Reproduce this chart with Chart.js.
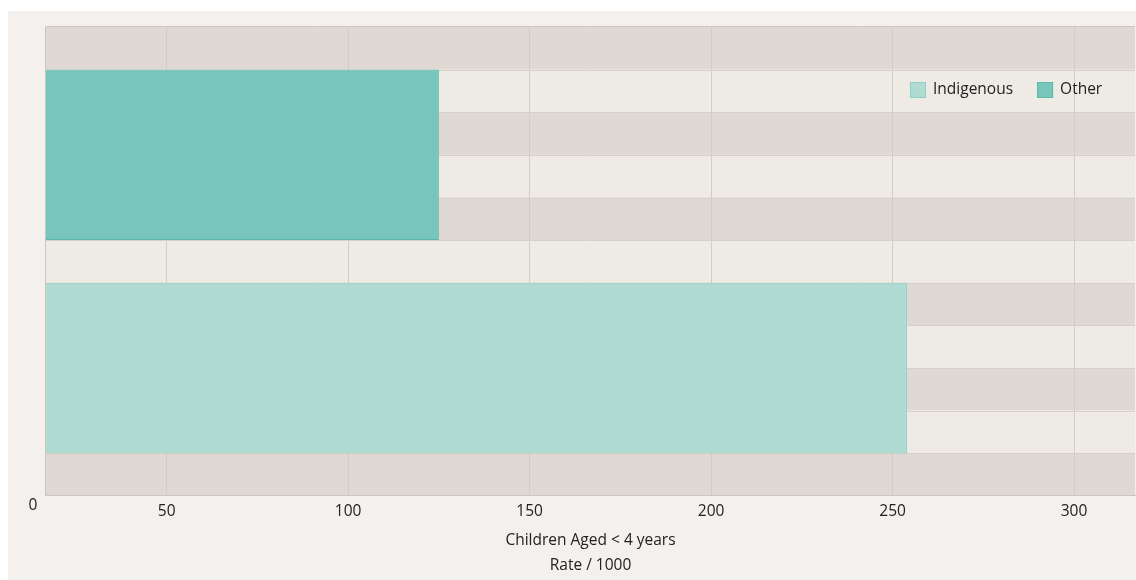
<!DOCTYPE html>
<html>
<head>
<meta charset="utf-8">
<script src="https://cdn.jsdelivr.net/npm/chart.js@4"></script>
<style>
  html, body { margin: 0; padding: 0; background: #fff; }
  #wrap { position: absolute; left: 8px; top: 11px; width: 1128px; height: 569px; background: #f3f0ed; }
</style>
</head>
<body>
<div id="wrap"><canvas id="rateChart"></canvas></div>
<script>
const categories = ['Children Aged < 4 years'];
const seriesNames = ['Other', 'Indigenous'];
const otherValues = [125];
const indigenousValues = [254];
const xTickValues = [50, 100, 150, 200, 250, 300];
const axisTitle = ['Children Aged < 4 years', 'Rate / 1000'];

const FONT = '"Open Sans", "Noto Sans", sans-serif';
const FONT_SIZE = 15.5;

// striped background + frame of the plot area
const bandsPlugin = {
  id: 'bands',
  beforeDraw(chart) {
    const { ctx, chartArea: a } = chart;
    const n = 11;
    const h = (a.bottom - a.top) / n;
    ctx.save();
    for (let i = 0; i < n; i++) {
      ctx.fillStyle = i % 2 === 0 ? '#e0d8d3' : '#eeebe5';
      ctx.fillRect(a.left, a.top + i * h, a.right - a.left, h);
    }
    ctx.strokeStyle = '#d6cfca';
    ctx.lineWidth = 1;
    for (let i = 1; i < n; i++) {
      const y = Math.round(a.top + i * h) + 0.5;
      ctx.beginPath();
      ctx.moveTo(a.left, y);
      ctx.lineTo(a.right, y);
      ctx.stroke();
    }
    ctx.restore();
  },
  beforeDatasetsDraw(chart) {
    const { ctx, chartArea: a } = chart;
    ctx.save();
    ctx.strokeStyle = '#cdc6c0';
    ctx.lineWidth = 1;
    ctx.beginPath();
    ctx.moveTo(a.right, a.top - 0.5);
    ctx.lineTo(a.left - 0.5, a.top - 0.5);
    ctx.lineTo(a.left - 0.5, a.bottom);
    ctx.stroke();
    ctx.restore();
  },
  afterDraw(chart) {
    const { ctx, chartArea: a } = chart;
    ctx.save();
    ctx.font = FONT_SIZE + 'px ' + FONT;
    ctx.fillStyle = '#222';
    ctx.textAlign = 'center';
    ctx.textBaseline = 'middle';
    ctx.fillText('0', a.left - 13, a.bottom + 10);
    ctx.restore();
  }
};

// legend drawn inside the plot, top right
const innerLegend = {
  id: 'innerLegend',
  afterDatasetsDraw(chart) {
    const { ctx, chartArea: a } = chart;
    const sets = chart.data.datasets.slice().reverse();
    ctx.save();
    ctx.font = FONT_SIZE + 'px ' + FONT;
    ctx.textBaseline = 'middle';
    let x = a.left + 864;
    const y = a.top + 63;
    sets.forEach(ds => {
      ctx.fillStyle = ds.backgroundColor;
      ctx.strokeStyle = ds.borderColor;
      ctx.lineWidth = 1;
      ctx.fillRect(x, y - 8, 16, 16);
      ctx.strokeRect(x + 0.5, y - 7.5, 15, 15);
      ctx.fillStyle = '#222';
      ctx.textAlign = 'left';
      ctx.fillText(ds.label, x + 23, y);
      x += 23 + ctx.measureText(ds.label).width + 24;
    });
    ctx.restore();
  }
};

new Chart(document.getElementById('rateChart'), {
  type: 'bar',
  data: {
    labels: categories,
    datasets: [
      {
        label: seriesNames[0],
        data: otherValues,
        backgroundColor: '#78c5bb',
        borderColor: '#5cb8aa',
        borderWidth: 1
      },
      {
        label: seriesNames[1],
        data: indigenousValues,
        backgroundColor: '#b0dbd3',
        borderColor: '#8fd0c4',
        borderWidth: 1
      }
    ]
  },
  options: {
    indexAxis: 'y',
    responsive: true,
    maintainAspectRatio: false,
    animation: false,
    categoryPercentage: 0.91,
    barPercentage: 0.8,
    layout: { padding: { left: 38, top: 16, right: 1, bottom: 1.5 } },
    plugins: {
      legend: { display: false },
      tooltip: { enabled: false }
    },
    scales: {
      x: {
        min: 16.75,
        max: 316.8,
        afterBuildTicks(scale) {
          scale.ticks = xTickValues.map(v => ({ value: v }));
        },
        grid: { color: '#d4cdc7', drawTicks: false },
        border: { display: true, color: '#cdc6c0' },
        ticks: {
          padding: 6,
          color: '#222',
          font: { family: FONT, size: FONT_SIZE }
        },
        title: {
          display: true,
          text: axisTitle,
          color: '#222',
          font: { family: FONT, size: FONT_SIZE, lineHeight: '25px' },
          padding: { top: 2, bottom: 0 }
        }
      },
      y: { display: false }
    }
  },
  plugins: [bandsPlugin, innerLegend]
});
</script>
</body>
</html>
